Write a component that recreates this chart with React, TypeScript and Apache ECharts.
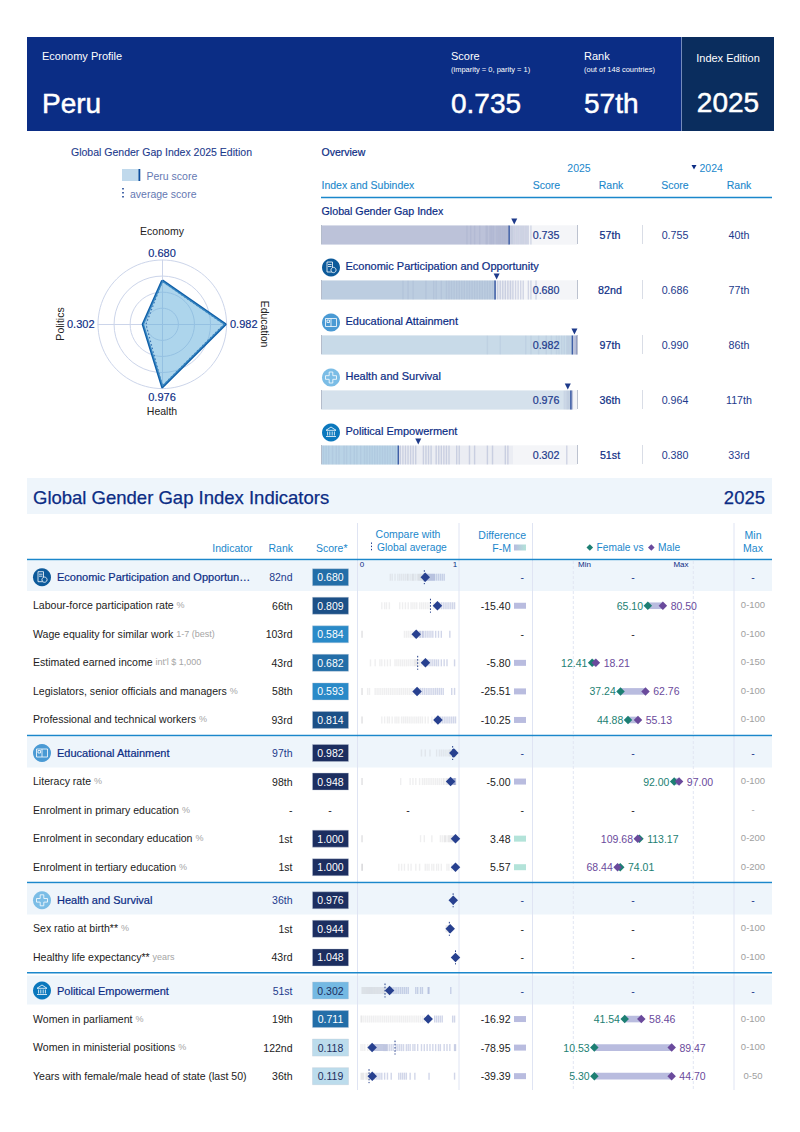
import React, { useEffect, useRef } from "react";
import * as echarts from "echarts";

const FONT = '"Liberation Sans", Arial, sans-serif';
const NAVY = "#0b2c84";
const SKY = "#1b87cb";

// ---------- Radar ----------
const radarAxes = ["Economy", "Politics", "Health", "Education"];
const radarPeru = [0.68, 0.302, 0.976, 0.982];
const radarAverage = [0.67, 0.254, 0.96, 0.96];

// ---------- Overview ----------
const overviewNames = ["Global Gender Gap Index", "Economic Participation and Opportunity", "Educational Attainment", "Health and Survival", "Political Empowerment"];
const overviewScores = [0.735, 0.68, 0.982, 0.976, 0.302];
const overviewRanks = ["57th", "82nd", "97th", "36th", "51st"];
const prevScores = [0.755, 0.686, 0.99, 0.964, 0.38];
const prevRanks = ["40th", "77th", "86th", "117th", "33rd"];
const overviewFill = ["#bcc2d9", "#bccde0", "#c8dae8", "#d5e1ec", "#b9d3e6"];
const overviewStrips = [
  [0.57, 0.585, 0.6, 0.62, 0.645, 0.65, 0.66, 0.665, 0.67, 0.675, 0.685, 0.69, 0.695, 0.7, 0.705, 0.71, 0.715, 0.72, 0.725, 0.73, 0.74, 0.745, 0.75, 0.755, 0.76, 0.765, 0.77, 0.775, 0.78, 0.785, 0.79, 0.795, 0.8, 0.805, 0.81, 0.82],
  [0.32, 0.34, 0.36, 0.41, 0.44, 0.45, 0.47, 0.49, 0.5, 0.51, 0.52, 0.53, 0.54, 0.55, 0.56, 0.57, 0.58, 0.59, 0.6, 0.61, 0.62, 0.63, 0.64, 0.65, 0.66, 0.67, 0.68, 0.69, 0.7, 0.71, 0.72, 0.73, 0.74, 0.75, 0.76, 0.77, 0.78, 0.79, 0.81, 0.82, 0.84],
  [0.65, 0.7, 0.8, 0.82, 0.85, 0.88, 0.9, 0.92, 0.93, 0.94, 0.95, 0.96, 0.965, 0.97, 0.975, 0.98, 0.985, 0.99, 0.992, 0.995, 0.998, 1, 1, 1],
  [0.95, 0.955, 0.96, 0.963, 0.966, 0.969, 0.972, 0.975, 0.978, 0.98, 0.982],
  [0.01, 0.02, 0.03, 0.045, 0.06, 0.07, 0.09, 0.1, 0.115, 0.13, 0.14, 0.155, 0.17, 0.18, 0.19, 0.2, 0.21, 0.22, 0.23, 0.24, 0.25, 0.26, 0.27, 0.28, 0.29, 0.31, 0.32, 0.33, 0.34, 0.35, 0.36, 0.37, 0.4, 0.41, 0.42, 0.43, 0.45, 0.46, 0.47, 0.48, 0.49, 0.5, 0.53, 0.54, 0.58, 0.6, 0.65, 0.67, 0.72, 0.73, 0.96],
];

// ---------- Indicators ----------
const sectionStarts = [0, 6, 11, 14];
const sectionCentres = [577.2, 753, 900.3, 990.5];
const labels = ["Economic Participation and Opportun…", "Labour-force participation rate", "Wage equality for similar work", "Estimated earned income", "Legislators, senior officials and managers", "Professional and technical workers", "Educational Attainment", "Literacy rate", "Enrolment in primary education", "Enrolment in secondary education", "Enrolment in tertiary education", "Health and Survival", "Sex ratio at birth**", "Healthy life expectancy**", "Political Empowerment", "Women in parliament", "Women in ministerial positions", "Years with female/male head of state (last 50)"];
const units = ["", "%", "1-7 (best)", "int'l $ 1,000", "%", "%", "", "%", "%", "%", "%", "", "%", "years", "", "%", "%", ""];
const ranks = ["82nd", "66th", "103rd", "43rd", "58th", "93rd", "97th", "98th", "-", "1st", "1st", "36th", "1st", "43rd", "51st", "19th", "122nd", "36th"];
const scores = [0.68, 0.809, 0.584, 0.682, 0.593, 0.814, 0.982, 0.948, null, 1.0, 1.0, 0.976, 0.944, 1.048, 0.302, 0.711, 0.118, 0.119];
const averages = [0.67, 0.735, null, 0.6, null, null, 0.97, null, null, null, null, 0.975, 0.935, 1.0, 0.254, null, 0.36, 0.085];
const differences = [null, -15.4, null, -5.8, -25.51, -10.25, null, -5.0, null, 3.48, 5.57, null, null, null, null, -16.92, -78.95, -39.39];
const females = [null, 65.1, null, 12.41, 37.24, 44.88, null, 92.0, null, 113.17, 74.01, null, null, null, null, 41.54, 10.53, 5.3];
const males = [null, 80.5, null, 18.21, 62.76, 55.13, null, 97.0, null, 109.68, 68.44, null, null, null, null, 58.46, 89.47, 44.7];
const rowMaxima = [null, 100, 100, 150, 100, 100, null, 100, null, 200, 200, null, 100, 100, null, 100, 100, 50];
const minMaxLabels = ["-", "0-100", "0-100", "0-150", "0-100", "0-100", "-", "0-100", "-", "0-200", "0-200", "-", "0-100", "0-100", "-", "0-100", "0-100", "0-50"];
const indicatorStrips = [
  [0.31, 0.33, 0.36, 0.39, 0.41, 0.43, 0.45, 0.47, 0.49, 0.5, 0.52, 0.54, 0.55, 0.56, 0.58, 0.6, 0.61, 0.62, 0.63, 0.64, 0.65, 0.66, 0.67, 0.69, 0.7, 0.71, 0.72, 0.73, 0.74, 0.75, 0.76, 0.77, 0.78, 0.8, 0.82, 0.84, 0.86, 0.88],
  [0.22, 0.25, 0.27, 0.3, 0.41, 0.44, 0.47, 0.5, 0.53, 0.55, 0.57, 0.59, 0.62, 0.64, 0.66, 0.68, 0.7, 0.72, 0.77, 0.79, 0.81, 0.83, 0.85, 0.87, 0.89, 0.91, 0.93, 0.95, 0.97, 0.99],
  [0.01, 0.012, 0.46, 0.48, 0.5, 0.52, 0.54, 0.56, 0.57, 0.59, 0.6, 0.62, 0.63, 0.65, 0.66, 0.68, 0.7, 0.72, 0.74, 0.76, 0.79, 0.82, 0.85, 0.94],
  [0.1, 0.15, 0.2, 0.22, 0.25, 0.28, 0.31, 0.36, 0.38, 0.4, 0.42, 0.44, 0.46, 0.48, 0.5, 0.52, 0.54, 0.56, 0.57, 0.58, 0.59, 0.6, 0.62, 0.64, 0.66, 0.7, 0.72, 0.74, 0.76, 0.78, 0.8, 0.82, 0.85, 0.88, 0.91, 0.99],
  [0.01, 0.012, 0.07, 0.09, 0.15, 0.17, 0.19, 0.21, 0.23, 0.25, 0.27, 0.29, 0.31, 0.33, 0.35, 0.37, 0.39, 0.41, 0.43, 0.45, 0.47, 0.49, 0.51, 0.53, 0.55, 0.57, 0.59, 0.61, 0.63, 0.65, 0.67, 0.69, 0.71, 0.73, 0.75, 0.77, 0.79, 0.81, 0.83, 0.85, 0.87, 0.96, 0.99],
  [0.01, 0.012, 0.22, 0.25, 0.28, 0.3, 0.33, 0.36, 0.38, 0.4, 0.43, 0.45, 0.47, 0.49, 0.51, 0.53, 0.55, 0.57, 0.59, 0.61, 0.63, 0.65, 0.68, 0.71, 0.75, 0.78, 0.8, 0.82, 0.84, 0.86, 0.88, 0.9, 0.92, 0.94, 0.96, 0.98, 1],
  [0.64, 0.68, 0.73, 0.8, 0.83, 0.85, 0.87, 0.89, 0.91, 0.93, 0.94, 0.95, 0.96, 0.97, 0.98, 0.99, 1],
  [0.01, 0.012, 0.42, 0.52, 0.55, 0.58, 0.62, 0.65, 0.67, 0.69, 0.71, 0.73, 0.75, 0.77, 0.79, 0.81, 0.83, 0.85, 0.87, 0.88, 0.9, 0.91, 0.92, 0.93, 0.94, 0.95, 0.96, 0.97, 0.98, 0.985, 0.99, 0.995, 1],
  [],
  [0.01, 0.012, 0.63, 0.67, 0.75, 0.84, 0.86, 0.88, 0.89, 0.9, 0.92, 0.93, 0.94, 0.95, 0.96, 0.97, 0.98, 0.99, 1],
  [0.01, 0.012, 0.014, 0.4, 0.43, 0.46, 0.5, 0.53, 0.58, 0.62, 0.68, 0.7, 0.72, 0.75, 0.77, 0.8, 0.82, 0.85, 0.91, 0.93, 0.96, 1],
  [0.965, 0.97, 0.975, 0.98],
  [0.9, 0.91, 0.92, 0.93, 0.94, 0.945],
  [0.99, 1],
  [0.01, 0.02, 0.03, 0.04, 0.05, 0.06, 0.07, 0.08, 0.09, 0.1, 0.11, 0.12, 0.13, 0.14, 0.15, 0.16, 0.17, 0.18, 0.19, 0.2, 0.21, 0.22, 0.23, 0.24, 0.25, 0.27, 0.32, 0.34, 0.36, 0.38, 0.4, 0.42, 0.44, 0.46, 0.48, 0.5, 0.58, 0.6, 0.63, 0.65, 0.71, 0.72, 0.95],
  [0, 0.01, 0.03, 0.05, 0.07, 0.09, 0.11, 0.13, 0.15, 0.17, 0.19, 0.21, 0.23, 0.25, 0.27, 0.29, 0.31, 0.33, 0.35, 0.37, 0.39, 0.41, 0.43, 0.45, 0.47, 0.49, 0.51, 0.53, 0.55, 0.57, 0.59, 0.61, 0.63, 0.65, 0.67, 0.78, 0.8, 0.82, 0.84, 0.86, 0.97, 0.99],
  [0, 0.02, 0.04, 0.07, 0.09, 0.11, 0.12, 0.13, 0.14, 0.15, 0.16, 0.17, 0.18, 0.19, 0.2, 0.21, 0.22, 0.23, 0.24, 0.25, 0.26, 0.27, 0.28, 0.3, 0.32, 0.34, 0.37, 0.39, 0.41, 0.43, 0.45, 0.48, 0.5, 0.52, 0.55, 0.57, 0.6, 0.64, 0.67, 0.7, 0.73, 0.76, 0.79, 0.82, 0.84, 0.88, 0.91, 0.94, 0.99, 1],
  [0, 0.01, 0.02, 0.03, 0.05, 0.06, 0.07, 0.09, 0.1, 0.12, 0.14, 0.16, 0.18, 0.2, 0.22, 0.25, 0.28, 0.32, 0.4, 0.42, 0.44, 0.46, 0.48, 0.52, 0.57, 0.72, 0.99],
];

const num3 = (v: number) => v.toFixed(3);
const num2 = (v: number) => v.toFixed(2);
const scoreColor = (v: number) =>
  v >= 0.9 ? "#1c2e60" : v >= 0.75 ? "#1c5087" : v >= 0.65 ? "#236ea8" : v >= 0.5 ? "#2a8ac8" : v >= 0.25 ? "#74b9e3" : "#bcdcec";

function txt(text: string, x: number, y: number, o: any = {}) {
  return {
    type: "text", x, y, z: 20, rotation: o.rotation || 0,
    style: {
      text, x: 0, y: 0, fill: o.color || "#222", fontSize: o.size || 10.5, fontFamily: FONT,
      fontWeight: o.weight || "normal", align: o.align || "left", verticalAlign: "middle",
      ...(o.stroke ? { stroke: o.color || "#222", lineWidth: o.stroke } : {}),
      ...(o.rich ? { rich: o.rich } : {}),
    },
  };
}
const rect = (x: number, y: number, width: number, height: number, fill: string, z = 0) => ({
  type: "rect", z, shape: { x, y, width, height }, style: { fill },
});
const vline = (x: number, y1: number, y2: number, stroke: string, lineWidth = 1, dash?: number[], z = 1) => ({
  type: "line", z, shape: { x1: x, y1, x2: x, y2 }, style: { stroke, lineWidth, ...(dash ? { lineDash: dash } : {}) },
});
const hline = (x1: number, x2: number, y: number, stroke: string, lineWidth = 1.5, z = 3) => ({
  type: "line", z, shape: { x1, y1: y, x2, y2: y }, style: { stroke, lineWidth },
});

function icon(kind: number, cx: number, cy: number) {
  const fills = ["#0d5a9a", "#4a9ad4", "#7bbde6", "#0b78bd"];
  const s = { stroke: "#fff", fill: "none", lineWidth: 0.8 };
  const els: any[] = [{ type: "circle", z: 21, shape: { cx, cy, r: 9 }, style: { fill: fills[kind] } }];
  const add = (e: any) => els.push({ z: 22, ...e, style: { ...s, ...(e.style || {}) } });
  if (kind === 0) {
    add({ type: "rect", shape: { x: cx - 4, y: cy - 5.5, width: 5.5, height: 10 } });
    add({ type: "line", shape: { x1: cx - 3, y1: cy - 3, x2: cx + 0.5, y2: cy - 3 } });
    add({ type: "line", shape: { x1: cx - 3, y1: cy - 1, x2: cx + 0.5, y2: cy - 1 } });
    add({ type: "circle", shape: { cx: cx + 2.5, cy: cy + 2.5, r: 2.6 }, style: { fill: fills[0] } });
  } else if (kind === 1) {
    add({ type: "rect", shape: { x: cx - 5.5, y: cy - 4, width: 11, height: 8 } });
    add({ type: "line", shape: { x1: cx, y1: cy - 4, x2: cx, y2: cy + 4 } });
    add({ type: "rect", shape: { x: cx - 4, y: cy - 2.5, width: 2.5, height: 2.5 } });
  } else if (kind === 2) {
    const a = 1.8, b = 5.5;
    add({ type: "polygon", shape: { points: [[cx - a, cy - b], [cx + a, cy - b], [cx + a, cy - a], [cx + b, cy - a], [cx + b, cy + a], [cx + a, cy + a], [cx + a, cy + b], [cx - a, cy + b], [cx - a, cy + a], [cx - b, cy + a], [cx - b, cy - a], [cx - a, cy - a]] } });
  } else {
    add({ type: "polygon", shape: { points: [[cx - 5, cy - 2.2], [cx, cy - 5.5], [cx + 5, cy - 2.2]] } });
    add({ type: "line", shape: { x1: cx - 5, y1: cy + 4, x2: cx + 5, y2: cy + 4 } });
    for (const d of [-3.4, -1.2, 1.2, 3.4]) add({ type: "line", shape: { x1: cx + d, y1: cy - 1, x2: cx + d, y2: cy + 3 } });
  }
  return els;
}

const rowCentre = (i: number) => {
  let s = 0;
  for (let k = 0; k < sectionStarts.length; k++) if (i >= sectionStarts[k]) s = k;
  return sectionCentres[s] + (i - sectionStarts[s]) * 28.55;
};

function buildGraphic() {
  const g: any[] = [];
  const white = "#fff";
  // banner
  g.push(rect(27, 37, 747, 94, "#0b2d85"), rect(682, 37, 92, 94, "#0a2d5e"), vline(681.5, 37, 131, "#8fa3c9", 0.8));
  g.push(txt("Economy Profile", 42, 56, { size: 11, color: white }), txt("Peru", 42, 103, { size: 28, color: white, stroke: 0.5 }));
  g.push(txt("Score", 451, 56, { size: 11, color: white }), txt("(imparity = 0, parity = 1)", 451, 69, { size: 7.5, color: white }));
  g.push(txt("Rank", 584, 56, { size: 11, color: white }), txt("(out of 148 countries)", 584, 69, { size: 7.5, color: white }));
  g.push(txt("0.735", 451, 103, { size: 28, color: white, stroke: 0.5 }), txt("57th", 584, 103, { size: 28, color: white, stroke: 0.5 }));
  g.push(txt("Index Edition", 728, 58, { size: 11, color: white, align: "center" }), txt("2025", 728, 102, { size: 28, color: white, align: "center", stroke: 0.5 }));

  // radar heading + legend
  g.push(txt("Global Gender Gap Index 2025 Edition", 161.5, 151.5, { color: "#1d3a8c", align: "center", stroke: 0.1 }));
  g.push(rect(122, 169, 17, 12, "#c0d9ec"), rect(138.5, 169, 1.8, 12, "#0f4f9e"));
  g.push(txt("Peru score", 146.5, 175.5, { color: "#6478b2" }));
  g.push(vline(123, 188, 199, "#0f3a8e", 1.5, [1.6, 2.4]));
  g.push(txt("average score", 130, 193.5, { color: "#6478b2" }));
  g.push(txt(radarAxes[0], 162, 231, { align: "center" }), txt(num3(radarPeru[0]), 162, 253, { size: 11, color: NAVY, align: "center", stroke: 0.15 }));
  g.push(txt(num3(radarPeru[2]), 162, 397, { size: 11, color: NAVY, align: "center", stroke: 0.15 }), txt(radarAxes[2], 162, 411, { align: "center" }));
  g.push(txt(num3(radarPeru[3]), 230, 323.5, { size: 11, color: NAVY, stroke: 0.15 }), txt(num3(radarPeru[1]), 94.5, 323.5, { size: 11, color: NAVY, align: "right", stroke: 0.15 }));
  g.push(txt(radarAxes[3], 264.5, 324, { align: "center", rotation: -Math.PI / 2 }), txt(radarAxes[1], 59.5, 324, { align: "center", rotation: Math.PI / 2 }));

  // overview heading
  g.push(txt("Overview", 321.5, 151.5, { color: NAVY, stroke: 0.2 }));
  g.push(txt("2025", 579, 167.5, { color: SKY, align: "center" }), txt("2024", 699.5, 167.5, { color: SKY }));
  g.push({ type: "polygon", z: 20, shape: { points: [[691.5, 165], [696.5, 165], [694, 169.5]] }, style: { fill: NAVY } });
  g.push(txt("Index and Subindex", 321.5, 185, { color: SKY, stroke: 0.1 }));
  ["Score", "Rank", "Score", "Rank"].forEach((h, i) => g.push(txt(h, [546.5, 611, 675, 739][i], 185, { color: SKY, align: "center", stroke: 0.1 })));
  g.push(hline(321, 772, 197.5, SKY, 1.5));
  overviewNames.forEach((n, i) => {
    const top = 225 + i * 55;
    g.push(txt(n, i === 0 ? 321.5 : 345.5, top - 14.5, { size: i === 0 ? 10.7 : 11, color: NAVY, stroke: 0.2 }));
    if (i > 0) g.push(...icon(i - 1, 331, top - 12.5));
    g.push(txt(num3(overviewScores[i]), 532.7, top + 10, { size: 10.7, color: "#1d3a8c", stroke: 0.2 }));
    g.push(txt(overviewRanks[i], 610, top + 10, { size: 10.7, color: NAVY, align: "center", stroke: 0.2 }));
    g.push(txt(num3(prevScores[i]), 675, top + 10, { size: 10.7, color: "#1d3a8c", align: "center" }));
    g.push(txt(prevRanks[i], 739, top + 10, { size: 10.7, color: "#1d3a8c", align: "center" }));
    g.push(vline(642.5, top, top + 19, "#d9dde6", 1), vline(577.5, top, top + 19, "#bcc2cf", 1, undefined, 8), vline(321.5, top, top + 19, "#b4bccb", 1, undefined, 8));
  });

  // indicators heading
  g.push(rect(27, 478, 745, 36, "#eef5fb"));
  g.push(txt("Global Gender Gap Index Indicators", 33, 497, { size: 18.5, color: NAVY, stroke: 0.25 }), txt("2025", 765, 497, { size: 18.5, color: NAVY, align: "right", stroke: 0.25 }));
  const hs = { size: 10.5, color: SKY };
  g.push(txt("Indicator", 252.5, 547.5, { ...hs, align: "right" }), txt("Rank", 293, 547.5, { ...hs, align: "right" }), txt("Score*", 347.5, 547.5, { ...hs, align: "right" }));
  g.push(txt("Compare with", 408, 534, { ...hs, align: "center" }), txt("Global average", 377, 547.5, { ...hs, size: 10.3 }));
  g.push(vline(371.5, 542.5, 552, "#1d3a8c", 1, [1.4, 1.8]));
  g.push(txt("Difference", 526, 534.5, { ...hs, align: "right" }), txt("F-M", 511, 547.5, { ...hs, align: "right" }));
  g.push({ type: "rect", z: 5, shape: { x: 514, y: 544.5, width: 12, height: 6 }, style: { fill: new echarts.graphic.LinearGradient(0, 0, 1, 0, [{ offset: 0, color: "#b9bcdf" }, { offset: 1, color: "#b3e3d9" }]) } });
  g.push({ type: "polygon", z: 5, shape: { points: [[586.5, 547.5], [589.8, 544.2], [593.1, 547.5], [589.8, 550.8]] }, style: { fill: "#1d7f73" } });
  g.push(txt("Female vs", 596.5, 547.5, { ...hs, size: 10.2 }));
  g.push({ type: "polygon", z: 5, shape: { points: [[648, 547.5], [651.3, 544.2], [654.6, 547.5], [651.3, 550.8]] }, style: { fill: "#6a4a9c" } });
  g.push(txt("Male", 658, 547.5, { ...hs, size: 10.2 }));
  g.push(txt("Min", 753, 534.5, { ...hs, align: "center" }), txt("Max", 753, 547.5, { ...hs, align: "center" }));
  g.push(txt("0", 362, 564.5, { size: 8, color: NAVY, align: "center" }), txt("1", 455, 564.5, { size: 8, color: NAVY, align: "center" }));
  g.push(txt("Min", 584.5, 564.5, { size: 8, color: NAVY, align: "center" }), txt("Max", 681, 564.5, { size: 8, color: NAVY, align: "center" }));
  [357.5, 459, 532.5, 734].forEach((x) => g.push(vline(x, 523, 1090, "#dfe4f3", 1, undefined, 2)));
  [573.3, 693.3].forEach((x) => g.push(vline(x, 561, 1090, "#e2e6f3", 1, [3, 2], 2)));

  // section bands
  [[559.5, 561, 591], [735.5, 737, 767.5], [882.5, 884, 914.5], [972.7, 975.5, 1004.5]].forEach(([ly, a, b]) => {
    g.push(rect(27, a, 745, b - a, "#eef5fb"), hline(27, 772, ly, SKY, 1.6));
  });

  labels.forEach((lab, i) => {
    const y = rowCentre(i);
    const sec = sectionStarts.indexOf(i);
    if (sec >= 0) {
      g.push(txt(lab, 57, y, { size: 11, color: NAVY, stroke: 0.2 }), ...icon(sec, 42, y));
      g.push(txt(ranks[i], 292.5, y, { color: "#1d3a8c", align: "right" }));
      g.push(txt("-", 524, y, { color: "#1d3a8c", align: "right" }), txt("-", 633, y, { color: "#1d3a8c", align: "center" }), txt("-", 753, y, { color: "#1d3a8c", align: "center" }));
    } else {
      const rich = { a: { fontSize: 10.55, fill: "#222", fontFamily: FONT }, u: { fontSize: 9, fill: "#a5a5a5", fontFamily: FONT } };
      g.push(txt(units[i] ? `{a|${lab}} {u|${units[i]}}` : `{a|${lab}}`, 33, y - 0.5, { rich }));
      g.push(txt(ranks[i], 292.5, y, { align: "right" }));
      if (differences[i] != null) g.push(txt(num2(differences[i] as number), 510.5, y, { align: "right" }));
      else g.push(txt("-", 524, y, { align: "right" }));
      if (females[i] == null) g.push(txt("-", 633, y, { align: "center" }));
      g.push(txt(minMaxLabels[i], 753, y - 1, { size: 9.5, color: "#a0a0a0", align: "center" }));
      if (scores[i] == null) g.push(txt("-", 330, y, { align: "center" }), txt("-", 408, y, { align: "center" }));
    }
  });
  return g;
}

function renderRange(params: any, api: any) {
  const a = api.coord([api.value(0), api.value(2)]);
  const b = api.coord([api.value(1), api.value(2)]);
  return { type: "rect", shape: { x: a[0], y: a[1] - 3.3, width: b[0] - a[0], height: 6.6 }, style: { fill: api.value(3) > 0 ? "#b3e3d9" : "#b9bcdf" } };
}
function renderAverage(params: any, api: any) {
  const p = api.coord([api.value(0), api.value(1)]);
  return { type: "line", shape: { x1: p[0], y1: p[1] - 7, x2: p[0], y2: p[1] + 7 }, style: { stroke: "#27408b", lineWidth: 1, lineDash: [1.6, 1.6] } };
}

function buildOption() {
  const grid: any[] = [], xAxis: any[] = [], yAxis: any[] = [], series: any[] = [];
  const addGrid = (left: number, right: number, top: number, h: number, cats: string[], max = 1) => {
    const idx = grid.length;
    grid.push({ left, top, width: right - left, height: h, show: false });
    xAxis.push({ type: "value", gridIndex: idx, min: 0, max, show: false });
    yAxis.push({ type: "category", gridIndex: idx, data: cats, inverse: true, show: false });
    return idx;
  };

  // overview
  const ov = addGrid(321, 577, 207.5, 275, overviewNames);
  series.push({ type: "bar", xAxisIndex: ov, yAxisIndex: ov, barWidth: 19, z: 2, barGap: "-100%", data: overviewNames.map(() => 1), itemStyle: { color: "#ebedf3" }, silent: true });
  series.push({ type: "bar", xAxisIndex: ov, yAxisIndex: ov, barWidth: 19, z: 3, barGap: "-100%", data: overviewScores.map((v, i) => ({ value: v, itemStyle: { color: overviewFill[i] } })), silent: true });
  series.push({
    type: "custom", xAxisIndex: ov, yAxisIndex: ov, z: 3, silent: true, data: overviewNames.map((_, i) => [0.75, 1, i]),
    renderItem: (p: any, api: any) => {
      const a = api.coord([api.value(0), api.value(2)]), b = api.coord([api.value(1), api.value(2)]);
      return { type: "rect", shape: { x: a[0], y: a[1] - 9.5, width: b[0] - a[0], height: 19 }, style: { fill: "rgba(255,255,255,0.45)" } };
    },
  });
  series.push({
    type: "scatter", xAxisIndex: ov, yAxisIndex: ov, z: 4, symbol: "rect", symbolSize: [1.4, 19], silent: true,
    data: overviewStrips.flatMap((s, i) => s.map((v) => ({
      value: [v, i],
      itemStyle: { color: "#30478f", opacity: v < overviewScores[i] ? 0.06 : 0.18 },
    }))),
  });
  series.push({ type: "scatter", xAxisIndex: ov, yAxisIndex: ov, z: 6, symbol: "rect", symbolSize: [1.5, 19], itemStyle: { color: "#3f5fa6", opacity: 1 }, silent: true, data: overviewScores.map((v, i) => [v, i]) });
  series.push({ type: "scatter", xAxisIndex: ov, yAxisIndex: ov, z: 6, symbol: "triangle", symbolRotate: 180, symbolSize: 6, symbolOffset: [0, -13.5], itemStyle: { color: "#1e3a8a", opacity: 1 }, silent: true, data: prevScores.map((v, i) => [v, i]) });

  // indicator sections
  sectionStarts.forEach((start, s) => {
    const end = sectionStarts[s + 1] ?? labels.length;
    const n = end - start;
    const step = 28.55;
    const top = sectionCentres[s] - step / 2;
    const h = n * step;
    const cats = labels.slice(start, end);
    const rows = cats.map((_, k) => start + k);

    const sc = addGrid(312.5, 348.5, top, h, cats);
    series.push({
      type: "scatter", xAxisIndex: sc, yAxisIndex: sc, symbol: "rect", symbolSize: [36, 17], silent: true,
      data: rows.filter((r) => scores[r] != null).map((r) => {
        const v = scores[r] as number;
        return {
          value: [0.5, r - start],
          itemStyle: { color: scoreColor(v), opacity: 1, borderColor: "rgba(190,200,215,0.6)", borderWidth: 0.6 },
          label: { show: true, position: "inside", formatter: num3(v), color: v < 0.5 ? "#1c2e60" : "#fff", fontSize: 10.5, fontFamily: FONT },
        };
      }),
    });

    const st = addGrid(361, 455.5, top, h, cats);
    series.push({
      type: "scatter", xAxisIndex: st, yAxisIndex: st, symbol: "rect", symbolSize: [1.4, 7], silent: true,
      data: rows.flatMap((r) => indicatorStrips[r].map((v) => ({
        value: [v, r - start],
        itemStyle: { color: v < (scores[r] ?? 0) ? "#a8a8ac" : "#5a6cb0", opacity: v < (scores[r] ?? 0) ? 0.18 : 0.28 },
      }))),
    });
    series.push({
      type: "custom", xAxisIndex: st, yAxisIndex: st, silent: true, z: 4, renderItem: renderAverage,
      data: rows.filter((r) => averages[r] != null).map((r) => [averages[r], r - start]),
    });
    series.push({
      type: "scatter", xAxisIndex: st, yAxisIndex: st, symbol: "diamond", symbolSize: 9.5, z: 5, silent: true, itemStyle: { color: "#27408f", opacity: 1 },
      data: rows.filter((r) => scores[r] != null).map((r) => [Math.min(scores[r] as number, 1), r - start]),
    });

    const df = addGrid(514, 526, top, h, cats);
    series.push({
      type: "scatter", xAxisIndex: df, yAxisIndex: df, symbol: "rect", symbolSize: [12, 6], silent: true,
      data: rows.filter((r) => differences[r] != null).map((r) => ({
        value: [0.5, r - start],
        itemStyle: { color: (differences[r] as number) > 0 ? "#b3e3d9" : "#b9bcdf", opacity: 1 },
      })),
    });

    const db = addGrid(584, 682, top, h, cats);
    const withData = rows.filter((r) => females[r] != null);
    const norm = (v: number, r: number) => v / (rowMaxima[r] as number);
    series.push({
      type: "custom", xAxisIndex: db, yAxisIndex: db, silent: true, z: 3, renderItem: renderRange,
      data: withData.map((r) => {
        const f = norm(females[r] as number, r), m = norm(males[r] as number, r);
        return [Math.min(f, m), Math.max(f, m), r - start, f - m];
      }),
    });
    const marks = (vals: any[], others: any[], color: string, symbolSize: number) => ({
      type: "scatter", xAxisIndex: db, yAxisIndex: db, symbol: "diamond", symbolSize, z: 5, silent: true, itemStyle: { color, opacity: 1 },
      data: withData.map((r) => {
        const v = vals[r] as number, left = v < (others[r] as number);
        return {
          value: [norm(v, r), r - start],
          label: { show: true, position: left ? "left" : "right", distance: left ? 0.5 : 3.5, formatter: num2(v), color, fontSize: 10.5, fontFamily: FONT },
        };
      }),
    });
    series.push(marks(females, males, "#1d7f73", 8.5), marks(males, females, "#6a4a9c", 8.5));
  });

  // radar
  series.push({
    type: "radar", radarIndex: 0, symbol: "none", silent: true, z: 4,
    data: [
      { name: "average score", value: radarAverage, lineStyle: { color: "#143a8e", width: 1.2, type: [1.5, 2.2] }, areaStyle: { opacity: 0 } },
      { name: "Peru score", value: radarPeru, lineStyle: { color: "#0f5fa8", width: 2.4, join: "round" }, areaStyle: { color: "#62aedb", opacity: 0.52 } },
    ],
  });

  return {
    animation: false,
    backgroundColor: "#fff",
    textStyle: { fontFamily: FONT },
    radar: {
      center: [162.3, 324.3],
      radius: 64.3,
      startAngle: 90,
      shape: "circle",
      splitNumber: 4,
      indicator: radarAxes.map((name) => ({ name, min: 0, max: 1 })),
      axisName: { show: false },
      axisTick: { show: false },
      axisLabel: { show: false },
      axisLine: { show: true, lineStyle: { color: "#ccd5ea", width: 1 } },
      splitLine: { show: true, lineStyle: { color: "#ccd5ea", width: 1 } },
      splitArea: { show: false },
    },
    grid, xAxis, yAxis, series,
    graphic: { elements: buildGraphic() },
  };
}

export default function App() {
  const ref = useRef<HTMLDivElement>(null);
  useEffect(() => {
    document.body.style.margin = "0";
    const chart = echarts.init(ref.current!, undefined, { renderer: "svg" });
    chart.setOption(buildOption() as any);
    return () => chart.dispose();
  }, []);
  return <div ref={ref} style={{ width: 800, height: 1132 }} />;
}
